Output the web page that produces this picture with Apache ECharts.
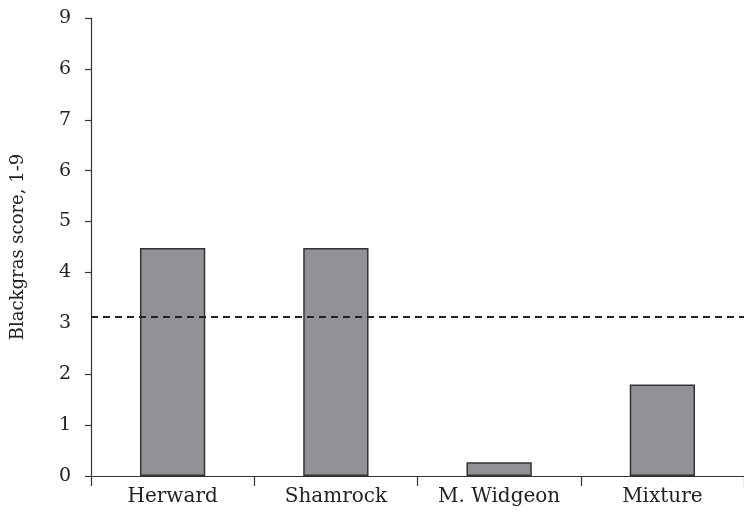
<!DOCTYPE html>
<html>
<head>
<meta charset="utf-8">
<script src="https://cdn.jsdelivr.net/npm/echarts@6/dist/echarts.min.js"></script>
<style>html,body{margin:0;padding:0;background:#fff}#c{width:744px;height:517px}</style>
</head>
<body>
<div id="c"></div>
<script>
const categories = ['Herward', 'Shamrock', 'M. Widgeon', 'Mixture'];
const scores = [4.48, 4.48, 0.27, 1.8];
const referenceLine = 3.12;
const yTickValues = [0, 1, 2, 4, 5, 6, 7, 8, 9];
const yLabelValues = [0, 1, 2, 3, 4, 5, 6, 7, 8, 9];
const yTickLabels = ['0', '1', '2', '3', '4', '5', '6', '7', '6', '9'];
const yAxisTitle = 'Blackgras score, 1-9';

const FONT = 'DejaVu Serif';
const chart = echarts.init(document.getElementById('c'));
chart.setOption({
  animation: false,
  grid: { left: 91, right: -5, top: 18, bottom: 41 },
  xAxis: {
    type: 'category',
    data: categories,
    axisLine: { lineStyle: { color: '#333', width: 1.2 } },
    axisTick: { show: true, length: 10, inside: false, lineStyle: { color: '#333', width: 1.2 } },
    axisLabel: { color: '#222', fontFamily: FONT, fontSize: 20, margin: 11 }
  },
  yAxis: {
    type: 'value',
    min: 0, max: 9, interval: 1,
    name: yAxisTitle,
    nameLocation: 'middle',
    nameGap: 64,
    nameTextStyle: { color: '#222', fontFamily: FONT, fontSize: 18 },
    axisLine: { show: true, lineStyle: { color: '#333', width: 1.2 } },
    axisTick: { show: true, length: 6, customValues: yTickValues, lineStyle: { color: '#333', width: 1.2 } },
    axisLabel: {
      color: '#222', fontFamily: FONT, fontSize: 19, margin: 20,
      customValues: yLabelValues,
      formatter: v => yTickLabels[yLabelValues.indexOf(Math.round(v))]
    },
    splitLine: { show: false }
  },
  series: [{
    type: 'bar',
    data: scores,
    barWidth: '40%',
    itemStyle: { color: '#929296', borderColor: '#333', borderWidth: 1.5 },
    markLine: {
      symbol: 'none',
      silent: true,
      label: { show: false },
      lineStyle: { type: [7, 5], color: '#222', width: 2 },
      data: [{ yAxis: referenceLine }]
    }
  }]
});
</script>
</body>
</html>
